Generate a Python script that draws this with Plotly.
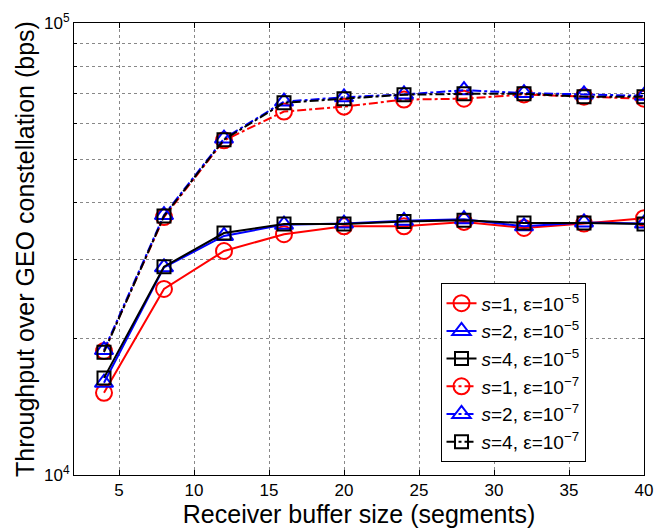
import plotly.graph_objects as go

buffer_size = [4, 8, 12, 16, 20, 24, 28, 32, 36, 40]

# epsilon = 1e-5 (solid)
s1_e5 = [15200, 25800, 31300, 34100, 35500, 35500, 36300, 35200, 36000, 37000]
s2_e5 = [16000, 28800, 33800, 35800, 36000, 36500, 36800, 35500, 36200, 36000]
s4_e5 = [16400, 28900, 34300, 35900, 35900, 36400, 36600, 36100, 36100, 35900]

# epsilon = 1e-7 (dash-dot)
s1_e7 = [18800, 37200, 55000, 63700, 65300, 67700, 68000, 69500, 68700, 68000]
s2_e7 = [18900, 37600, 55500, 67000, 68500, 69500, 71000, 70000, 69500, 69000]
s4_e7 = [18700, 37400, 55200, 66600, 68000, 69400, 69700, 69700, 68700, 68700]

labels = [
    "<i>s</i>=1, ε=10<sup>−5</sup>",
    "<i>s</i>=2, ε=10<sup>−5</sup>",
    "<i>s</i>=4, ε=10<sup>−5</sup>",
    "<i>s</i>=1, ε=10<sup>−7</sup>",
    "<i>s</i>=2, ε=10<sup>−7</sup>",
    "<i>s</i>=4, ε=10<sup>−7</sup>",
]

series = [s1_e5, s2_e5, s4_e5, s1_e7, s2_e7, s4_e7]
colors = ["#ff0000", "#0000ff", "#000000"] * 2
symbols = ["circle-open", "triangle-up-open", "square-open"] * 2
sizes = [16, 16, 13] * 2
dashes = ["solid"] * 3 + ["dashdot"] * 3

fig = go.Figure()
for ys, lab, c, sym, sz, d in zip(series, labels, colors, symbols, sizes, dashes):
    fig.add_trace(go.Scatter(
        x=buffer_size, y=ys, name=lab, mode="lines+markers",
        line=dict(color=c, width=2, dash=d),
        marker=dict(symbol=sym, size=sz, color=c, line=dict(width=2, color=c)),
    ))

font = "Liberation Sans, Arial, Helvetica, sans-serif"
minor_y = [k * 10 ** 4 for k in range(2, 10)]

fig.update_layout(
    width=664, height=529,
    margin=dict(l=74, r=11, t=22, b=52),
    paper_bgcolor="white", plot_bgcolor="white",
    font=dict(family=font, color="black", size=17),
    showlegend=True,
    legend=dict(
        x=0.643, y=0.424, xanchor="left", yanchor="top",
        bgcolor="white", bordercolor="black", borderwidth=1,
        font=dict(size=19, family=font), tracegroupgap=0,
        itemwidth=30,
    ),
    xaxis=dict(
        range=[2, 40], tickvals=[5, 10, 15, 20, 25, 30, 35, 40],
        showgrid=True, gridcolor="#888888", griddash="dot", gridwidth=1,
        showline=True, linecolor="black", linewidth=1, mirror="ticks",
        ticks="inside", ticklen=5, tickcolor="black",
        zeroline=False,
        title=dict(text="Receiver buffer size (segments)", font=dict(size=25), standoff=0),
        tickfont=dict(size=17),
    ),
    yaxis=dict(
        type="log", range=[4, 5],
        tickvals=[1e4, 1e5], ticktext=["10<sup>4</sup>", "10<sup>5</sup>"],
        showgrid=False,
        showline=True, linecolor="black", linewidth=1, mirror="ticks",
        ticks="inside", ticklen=5, tickcolor="black",
        minor=dict(tickvals=minor_y, showgrid=True, gridcolor="#888888",
                   griddash="dot", gridwidth=1, ticks="inside", ticklen=3,
                   tickcolor="black"),
        zeroline=False,
        title=dict(text="Throughput over GEO constellation (bps)", font=dict(size=25), standoff=2),
        tickfont=dict(size=17),
    ),
)

fig.write_html("out.html")
